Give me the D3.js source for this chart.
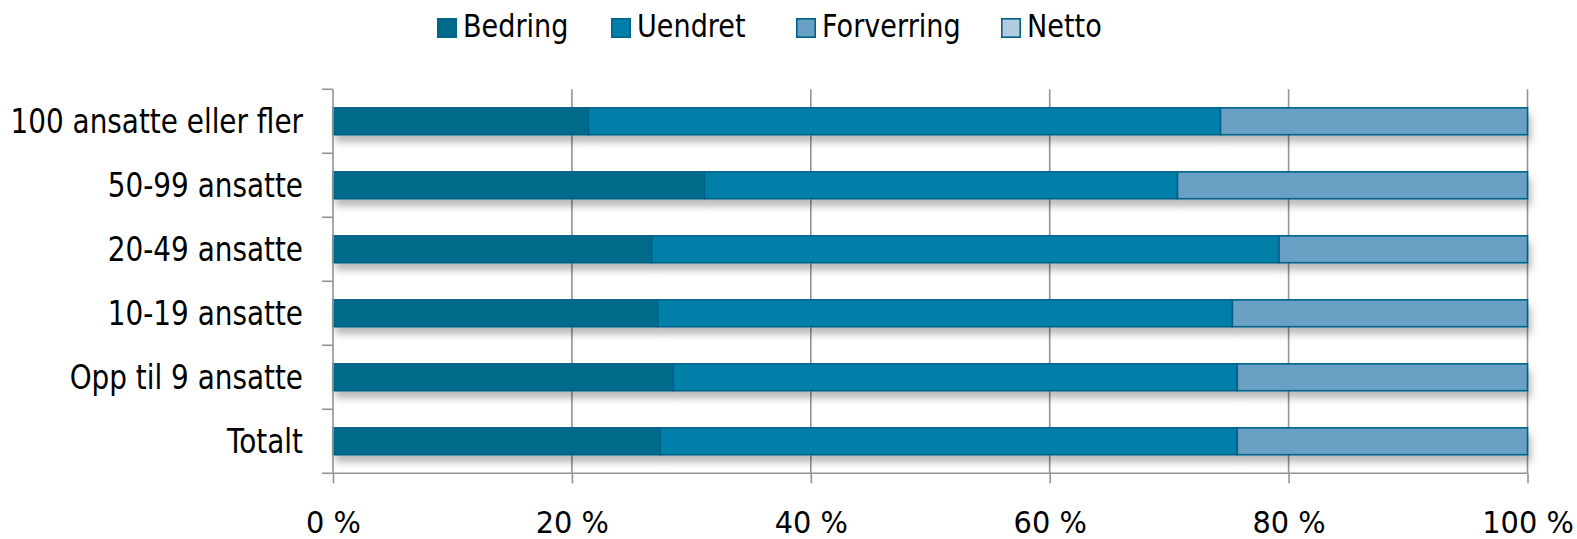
<!DOCTYPE html>
<html>
<head>
<meta charset="utf-8">
<script src="https://cdn.jsdelivr.net/npm/d3@7"></script>
<style>
  body { margin: 0; background: #fff; }
  svg { display: block; font-family: "DejaVu Sans", sans-serif; }
</style>
</head>
<body>
<div id="content"></div>
<script>
// categories top to bottom
const categories = ["100 ansatte eller fler", "50-99 ansatte", "20-49 ansatte", "10-19 ansatte", "Opp til 9 ansatte", "Totalt"];
const seriesNames = ["Bedring", "Uendret", "Forverring", "Netto"];
const bedring    = [21.4, 31.1, 26.7, 27.2, 28.5, 27.4];
const uendret    = [52.9, 39.6, 52.5, 48.1, 47.2, 48.3];
const forverring = [25.7, 29.3, 20.8, 24.7, 24.3, 24.3];
const xTicks = [0, 20, 40, 60, 80, 100];
const colors = ["#016a8b", "#007fa9", "#69a0c4", "#b3cadf"];

const width = 1577, height = 539;

const svg = d3.select("#content").append("svg")
  .attr("width", width).attr("height", height);

const defs = svg.append("defs");
const shadow = defs.append("filter").attr("id", "shadow")
  .attr("x", "-5%").attr("y", "-50%").attr("width", "110%").attr("height", "250%");
shadow.append("feDropShadow")
  .attr("dx", 3).attr("dy", 7).attr("stdDeviation", 3.5)
  .attr("flood-color", "#000").attr("flood-opacity", 0.26);

const x = d3.scaleLinear().domain([0, 100]).range([333, 1527.5]);
const y = d3.scaleBand().domain(categories).range([89.3, 473.3])
  .paddingInner(0.58).paddingOuter(0.29);

// gridlines
svg.append("g").selectAll("line")
  .data(xTicks.slice(1))
  .join("line")
  .attr("x1", d => x(d)).attr("x2", d => x(d))
  .attr("y1", 89.3).attr("y2", 473.3)
  .attr("stroke", "#939393").attr("stroke-width", 1.6);

// stacked data
const rows = categories.map((c, i) => ({
  cat: c, Bedring: bedring[i], Uendret: uendret[i], Forverring: forverring[i]
}));
const stack = d3.stack().keys(["Bedring", "Uendret", "Forverring"])(rows);

const rowG = svg.append("g").selectAll("g")
  .data(categories)
  .join("g")
  .attr("filter", "url(#shadow)");

rowG.each(function(cat, i) {
  d3.select(this).selectAll("rect")
    .data(stack.map((s, k) => ({ k: k, v: s[i] })))
    .join("rect")
    .attr("x", d => x(d.v[0]))
    .attr("width", d => x(d.v[1]) - x(d.v[0]))
    .attr("y", y(cat))
    .attr("height", y.bandwidth())
    .attr("fill", d => colors[d.k])
    .attr("stroke", "#00628a")
    .attr("stroke-width", 1.6);
});

// x axis
const xAxis = svg.append("g")
  .attr("transform", "translate(0,473.3)")
  .call(d3.axisBottom(x).tickValues(xTicks).tickSize(10).tickPadding(0).tickFormat(d => d + " %"));
xAxis.attr("font-family", null).attr("font-size", null);
xAxis.select(".domain").attr("stroke", "#939393").attr("stroke-width", 1.6).attr("d", "M333,0H1527.5");
xAxis.selectAll(".tick line").attr("stroke", "#939393").attr("stroke-width", 1.6);
xAxis.selectAll(".tick text")
  .attr("y", 0).attr("dy", 0)
  .attr("fill", "#000")
  .style("font-size", "31px")
  .attr("transform", "translate(0,59.5) scale(0.93,1)");

// y axis
const yAxis = svg.append("g").attr("transform", "translate(333,0)");
const bounds = categories.map(c => y(c) - y.step() * y.paddingInner() / 2)
  .concat([473.3]);
bounds[0] = 89.3;
yAxis.append("line")
  .attr("x1", 0).attr("x2", 0).attr("y1", 89.3).attr("y2", 473.3)
  .attr("stroke", "#939393").attr("stroke-width", 1.6);
yAxis.selectAll(".tk").data(bounds).join("line")
  .attr("class", "tk")
  .attr("x1", -11).attr("x2", 0)
  .attr("y1", d => d).attr("y2", d => d)
  .attr("stroke", "#939393").attr("stroke-width", 1.6);
yAxis.selectAll("text").data(categories).join("text")
  .attr("text-anchor", "end")
  .attr("transform", d => `translate(-30,${y(d) + y.bandwidth() / 2 + 11.5}) scale(0.845,1)`)
  .style("font-size", "33px")
  .attr("fill", "#000")
  .text(d => d);

// legend
const legendX = [437, 611, 796, 1001];
const lg = svg.append("g").selectAll("g")
  .data(seriesNames)
  .join("g")
  .attr("transform", (d, i) => `translate(${legendX[i]},18)`);
lg.append("rect")
  .attr("x", 0.8).attr("y", 0.8).attr("width", 18.4).attr("height", 18.4)
  .attr("fill", (d, i) => colors[i])
  .attr("stroke", "#00628a").attr("stroke-width", 1.6);
lg.append("text")
  .attr("transform", "translate(26,19.3) scale(0.86,1)")
  .style("font-size", "31.5px")
  .attr("fill", "#000")
  .text(d => d);
</script>
</body>
</html>
